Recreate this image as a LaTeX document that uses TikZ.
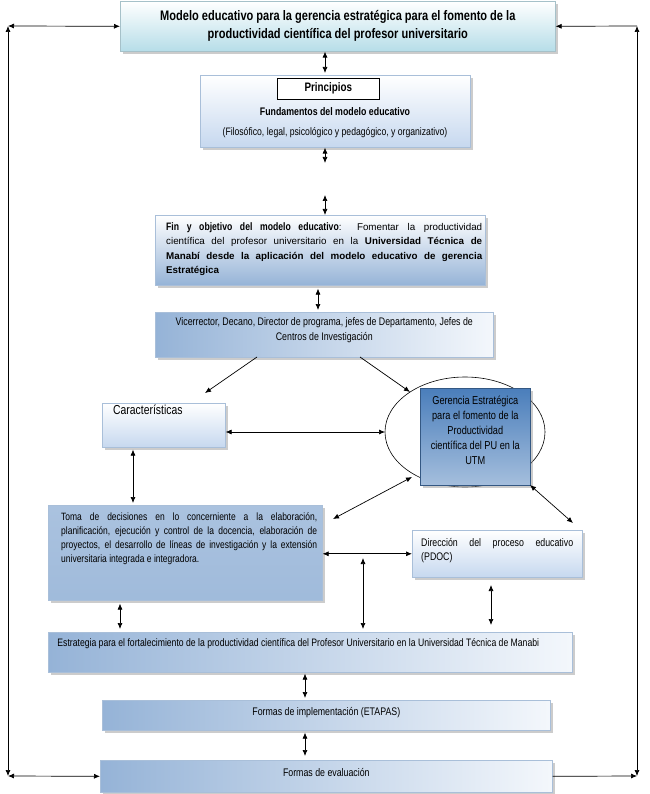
\documentclass[tikz,border=0pt]{standalone}
\usepackage{fontspec}
\setmainfont{Liberation Sans}
\newfontfamily\narrow{Liberation Sans}[FakeStretch=0.8]
\usetikzlibrary{arrows.meta,shadows,calc}

\definecolor{cyanlt}{HTML}{B6DDE8}
\definecolor{bluelt}{HTML}{C6D8EF}
\definecolor{bluemd}{HTML}{95B3D7}
\definecolor{bluedk}{HTML}{4A7EBB}
\definecolor{bluebd}{HTML}{A9BFD9}

\begin{document}
\begin{tikzpicture}[
  x=1pt, y=-1pt,
  box/.style  ={draw=bluebd,line width=0.6pt,inner sep=0pt,anchor=north west,
                drop shadow={shadow xshift=2.5pt,shadow yshift=-2.5pt,fill=black!40}},
  lite/.style ={box,top color=white,bottom color=bluelt},
  side/.style ={box,left color=bluemd,right color=white!80!bluelt},
  dark/.style ={box,top color=bluemd!80!white,middle color=bluedk,bottom color=bluemd!90!white},
  txt/.style  ={font=\narrow\fontsize{11}{14.5}\selectfont,inner sep=0pt,align=center},
  jtxt/.style ={txt,align=justify,anchor=north west},
  ln/.style   ={draw,{Latex[length=6pt,width=5pt]}-{Latex[length=6pt,width=5pt]},line width=0.7pt},
  to/.style   ={draw,-{Latex[length=6pt,width=5pt]},line width=0.7pt},
]
\useasboundingbox (0,0) rectangle (649,794);

% ----------------------------------------------------------- column guides
\coordinate (spine)  at (325,0);
\coordinate (spineb) at (318,0);
\coordinate (low)    at (305,0);

% ----------------------------------------------------------- the boxes
\node[box,top color=white,bottom color=cyanlt,draw=cyanlt!70!gray,
      minimum width=435pt,minimum height=50pt] (top) at (120,1) {};
\node[txt,font=\narrow\bfseries\fontsize{13.8}{18}\selectfont] at (top.center)
  {Modelo educativo para la gerencia estratégica para el fomento de la\\
   productividad científica del profesor universitario};

\node[lite,minimum width=270pt,minimum height=72pt] (prin) at (200,75) {};
\node[draw,fill=white,line width=0.6pt,anchor=north west,minimum width=102pt,
      minimum height=21pt,font=\narrow\bfseries\fontsize{12.3}{14}\selectfont] (prtit) at (277,78) {Principios};
\node[txt,font=\narrow\bfseries\fontsize{11}{13}\selectfont] (prfun) at (335,112) {Fundamentos del modelo educativo};
\node[txt,font=\narrow\fontsize{10.8}{13}\selectfont] (prlist) at (335,133)
  {(Filosófico, legal, psicológico y pedagógico, y organizativo)};

\node[box,top color=white,bottom color=bluemd,minimum width=330pt,minimum height=70pt] (fin) at (155,215) {};
\node[jtxt,text width=316pt,font=\fontsize{9.8}{14.5}\selectfont] at ($(fin.north west)+(11,7)$)
  {{\narrow\bfseries\fontsize{10.8}{14.5}\selectfont Fin y objetivo del modelo educativo}: Fomentar la productividad\linebreak
   científica del profesor universitario en la \textbf{Universidad Técnica de\linebreak
   Manabí desde la aplicación del modelo educativo de gerencia Estratégica}};

\node[side,minimum width=338pt,minimum height=45pt] (vice) at (155,312) {};
\node[txt] at ($(vice.north)+(0,18)$)
  {Vicerrector, Decano, Director de programa, jefes de Departamento, Jefes de\\
   Centros de Investigación};

\node[lite,minimum width=123pt,minimum height=44pt] (carac) at (102,403) {};
\node[txt,anchor=north west,font=\narrow\fontsize{13}{15}\selectfont] at (113,405) {Características};

\draw[line width=0.6pt] (465,432) ellipse [x radius=80, y radius=55];
\coordinate (ell)  at (465,432);
\coordinate (ellw) at (385,432);
\node[box,top color=bluedk,bottom color=bluemd!85!white,draw=bluedk!70!black,
      minimum width=110pt,minimum height=97pt] (ger) at (420,388) {};
\node[txt,anchor=north,font=\narrow\fontsize{11.5}{15}\selectfont] at ($(ger.north)+(0,8)$)
  {Gerencia Estratégica\\para el fomento de la\\Productividad\\científica del PU en la\\UTM};

\node[dark,minimum width=274pt,minimum height=95pt] (toma) at (48,505) {};
\node[jtxt,text width=256pt,font=\narrow\fontsize{10.6}{14.3}\selectfont] at ($(toma.north west)+(13,7)$)
  {Toma de decisiones en lo concerniente a la elaboración,\linebreak
   planificación, ejecución y control de la docencia, elaboración de\linebreak
   proyectos, el desarrollo de líneas de investigación y la extensión\linebreak
   universitaria integrada e integradora.};

\node[lite,minimum width=170pt,minimum height=47pt] (dir) at (412,530) {};
\node[jtxt,text width=152pt] at ($(dir.north west)+(9,8)$)
  {Dirección del proceso educativo\linebreak (PDOC)};

\node[side,minimum width=524pt,minimum height=40pt] (estr) at (48,632) {};
\node[txt,font=\narrow\fontsize{10.8}{12}\selectfont] at ($(estr.north)+(-12,12)$)
  {Estrategia para el fortalecimiento de la productividad científica del Profesor Universitario en la Universidad Técnica de Manabi};

\node[side,minimum width=448pt,minimum height=30pt] (impl) at (102,700) {};
\node[txt] at ($(impl.center)+(0,-3)$) {Formas de implementación (ETAPAS)};

\node[side,minimum width=452pt,minimum height=32pt] (eval) at (100,760) {};
\node[txt] at ($(eval.center)+(0,-4)$) {Formas de evaluación};

% ----------------------------------------------------------- main spine
\coordinate (gapa) at (325,163);
\coordinate (gapb) at (325,195);
\draw[ln] (top.south -| spine) -- ($(prin.north -| spine)+(0,-2)$);
\draw[ln] (prin.south -| spine) -- (gapa);
\draw[ln] (gapb) -- (fin.north -| spine);
\draw[ln] ($(fin.south -| spineb)+(0,3)$) -- ($(vice.north -| spineb)+(0,-2)$);

% ----------------------------------------------------------- middle part
\coordinate (vl) at (257,357);
\coordinate (vr) at (360,357);
\coordinate (cartop) at (205,393);
\coordinate (ellnw)  at (410,392);
\draw[to] (vl) -- (cartop);
\draw[to] (vr) -- (ellnw);
\draw[ln] (carac.east |- ellw) -- (ellw);
\draw[ln] ($(carac.south west)+(31,2)$) -- ($(toma.north west)+(85,-2)$);
\coordinate (ellsw) at (412,477);
\coordinate (tomane) at (333,519);
\draw[ln] (ellsw) -- (tomane);
\coordinate (ellse) at (530,485);
\coordinate (dirne) at (573,523);
\draw[ln] (ellse) -- (dirne);
\coordinate (tj) at (toma.east |- dir.west);
\draw[ln] (tj) -- (dir.west);
\coordinate (j1) at (363,556);
\draw[ln] ($(j1)+(0,2)$) -- ($(estr.north -| j1)+(0,-3)$);
\coordinate (d1) at (491,585);
\draw[ln] (d1) -- ($(estr.north -| d1)+(0,-7)$);
\draw[ln] ($(toma.south west)+(72,3)$) -- ($(estr.north west)+(72,-3)$);

% ----------------------------------------------------------- lower spine
\draw[ln] ($(estr.south -| low)+(0,1)$) -- ($(impl.north -| low)+(0,-2)$);
\draw[ln] ($(impl.south -| low)+(0,2)$) -- ($(eval.north -| low)+(0,-4)$);

% ----------------------------------------------------------- outer frame
\coordinate (ftl) at (8,26);
\coordinate (fbl) at (8,776);
\coordinate (ftr) at (637,26);
\coordinate (fbr) at (637,776);
\draw[ln] (ftl) -- (fbl);
\draw[ln] (ftr) -- (fbr);
\draw[ln] (ftl) -- (top.west);
\draw[ln] (fbl) -- (eval.west);
\draw[to] (ftr) -- (top.east);
\draw[to] (eval.east) -- (fbr);

\end{tikzpicture}
\end{document}
